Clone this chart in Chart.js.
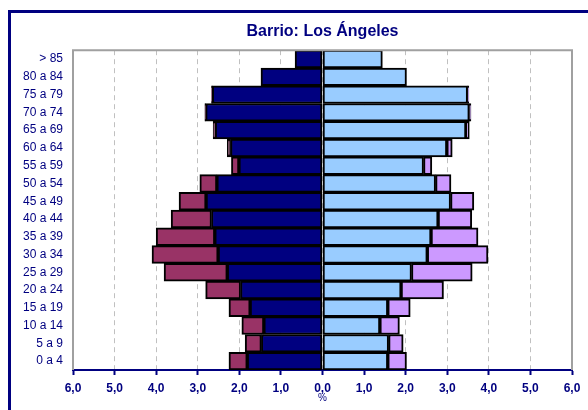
<!DOCTYPE html>
<html>
<head>
<meta charset="utf-8">
<script src="https://cdn.jsdelivr.net/npm/chart.js@4.4.0/dist/chart.umd.min.js"></script>
<style>
  html, body { margin: 0; padding: 0; background: #fff; }
  #wrap { position: relative; width: 588px; height: 410px; }
</style>
</head>
<body>
<div id="wrap"><canvas id="pyramid" width="588" height="410"></canvas></div>
<script>
const ageGroups = ['> 85', '80 a 84', '75 a 79', '70 a 74', '65 a 69', '60 a 64', '55 a 59', '50 a 54', '45 a 49',
    '40 a 44', '35 a 39', '30 a 34', '25 a 29', '20 a 24', '15 a 19', '10 a 14', '5 a 9', '0 a 4']

// % por grupo de edad (hombres a la izquierda)
const hombresEsp = [0.66, 1.48, 2.65, 2.81, 2.58, 2.21, 2.01, 2.54, 2.80, 2.67, 2.59, 2.51, 2.29, 1.97, 1.74, 1.41, 1.47, 1.81]
const hombresExt = [0, 0, 0.02, 0.02, 0.05, 0.08, 0.18, 0.41, 0.65, 0.97, 1.41, 1.59, 1.52, 0.84, 0.51, 0.53, 0.39, 0.44]
const mujeresEsp = [1.44, 2.02, 3.49, 3.53, 3.45, 2.99, 2.43, 2.72, 3.08, 2.78, 2.61, 2.52, 2.14, 1.89, 1.57, 1.38, 1.59, 1.57]
const mujeresExt = [0, 0, 0.03, 0.04, 0.08, 0.13, 0.20, 0.37, 0.56, 0.81, 1.13, 1.46, 1.46, 1.02, 0.54, 0.47, 0.35, 0.45]

const xTicks = [-6, -5, -4, -3, -2, -1, 0, 1, 2, 3, 4, 5, 6]

const NAVY = '#000080'

const framePlugin = {
    id: 'frame',
    beforeDraw(chart) {
        const c = chart.ctx
        c.save()
        c.fillStyle = NAVY
        c.fillRect(8, 10, 3, 400)
        c.fillRect(8, 10, 580, 3)
        c.restore()
    },
    afterDatasetsDraw(chart) {
        const { ctx, chartArea } = chart
        ctx.save()
        ctx.strokeStyle = '#a0a0a0'
        ctx.lineWidth = 2
        ctx.beginPath()
        ctx.moveTo(chartArea.left, chartArea.bottom)
        ctx.lineTo(chartArea.left, chartArea.top)
        ctx.lineTo(chartArea.right, chartArea.top)
        ctx.lineTo(chartArea.right, chartArea.bottom)
        ctx.stroke()
        ctx.restore()
    }
}

const neg = arr => arr.map(v => -v)

const barStyle = {
    borderColor: '#000000',
    borderWidth: 2,
    borderSkipped: false,
    barPercentage: 1,
    categoryPercentage: 1,
}

const ctx = document.getElementById('pyramid').getContext('2d')

new Chart(ctx, {
    type: 'bar',
    data: {
        labels: ageGroups,
        datasets: [
            { label: 'Hombres españoles', data: neg(hombresEsp), backgroundColor: '#000080', ...barStyle },
            { label: 'Hombres extranjeros', data: neg(hombresExt), backgroundColor: '#993366', ...barStyle },
            { label: 'Mujeres españolas', data: mujeresEsp, backgroundColor: '#99CCFF', ...barStyle },
            { label: 'Mujeres extranjeras', data: mujeresExt, backgroundColor: '#CC99FF', ...barStyle },
        ]
    },
    options: {
        indexAxis: 'y',
        responsive: false,
        animation: false,
        layout: { padding: { left: 0, right: 16, top: 0, bottom: 0 } },
        scales: {
            x: {
                stacked: true,
                min: -6,
                max: 6,
                afterBuildTicks: s => { s.ticks = xTicks.map(v => ({ value: v })) },
                afterFit: s => { s.height = 40 },
                grid: {
                    color: '#c0c0c0',
                    tickColor: NAVY,
                    tickLength: 5,
                    tickWidth: 2,
                    tickBorderDash: [],
                },
                border: { color: NAVY, width: 2, dash: [5, 4] },
                ticks: {
                    color: NAVY,
                    padding: 6,
                    font: { family: 'Arial', size: 12, weight: 'bold' },
                    callback: v => Math.abs(v).toFixed(1).replace('.', ',')
                },
                title: {
                    display: true,
                    text: '%',
                    color: NAVY,
                    font: { family: 'Arial', size: 10 },
                    padding: { top: 0, bottom: 6 }
                }
            },
            y: {
                stacked: true,
                afterFit: s => { s.width = 73 },
                grid: { display: false },
                border: { display: false },
                ticks: {
                    color: NAVY,
                    padding: 2,
                    font: { family: 'Arial', size: 12 }
                }
            }
        },
        plugins: {
            legend: { display: false },
            tooltip: { enabled: false },
            title: {
                display: true,
                text: 'Barrio: Los Ángeles',
                color: NAVY,
                fullSize: false,
                font: { family: 'Arial', size: 16, weight: 'bold' },
                padding: { top: 22, bottom: 9 }
            }
        }
    },
    plugins: [framePlugin]
})
</script>
</body>
</html>
